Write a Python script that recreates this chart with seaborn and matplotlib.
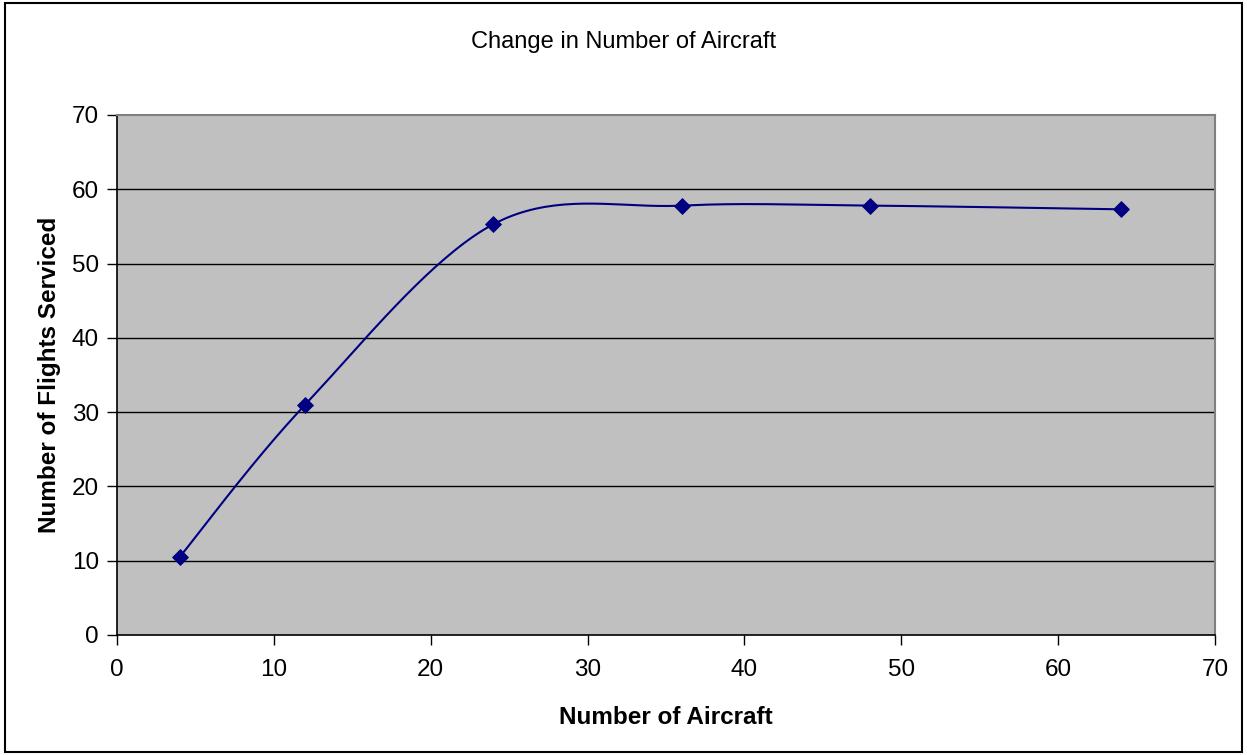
import numpy as np
import pandas as pd
import matplotlib
matplotlib.use("Agg")
import matplotlib.pyplot as plt
from matplotlib.patches import Rectangle
import seaborn as sns

aircraft = [4, 12, 24, 36, 48, 64]
flights_serviced = [10.5, 31, 55.3, 57.8, 57.8, 57.3]
x_ticks = [0, 10, 20, 30, 40, 50, 60, 70]
y_ticks = [0, 10, 20, 30, 40, 50, 60, 70]


def smooth_curve(xs, ys, steps=40):
    """Catmull-Rom style Bezier smoothing through every point."""
    pts = np.column_stack([xs, ys]).astype(float)
    out = []
    n = len(pts)
    for i in range(n - 1):
        p0 = pts[i - 1] if i > 0 else pts[i]
        p1 = pts[i]
        p2 = pts[i + 1]
        p3 = pts[i + 2] if i + 2 < n else pts[i + 1]
        c1 = p1 + (p2 - p0) / 6.0
        c2 = p2 - (p3 - p1) / 6.0
        t = np.linspace(0, 1, steps, endpoint=(i == n - 2))[:, None]
        seg = ((1 - t) ** 3) * p1 + 3 * ((1 - t) ** 2) * t * c1 + 3 * (1 - t) * t ** 2 * c2 + t ** 3 * p2
        out.append(seg)
    out = np.vstack(out)
    return out[:, 0], out[:, 1]


sx, sy = smooth_curve(aircraft, flights_serviced)
curve = pd.DataFrame({"x": sx, "y": sy})
points = pd.DataFrame({"aircraft": aircraft, "flights": flights_serviced})

sns.set_style("white")
plt.rcParams["font.family"] = ["Liberation Sans", "DejaVu Sans"]
plt.rcParams["text.color"] = "black"
plt.rcParams["axes.labelcolor"] = "black"
plt.rcParams["xtick.color"] = "black"
plt.rcParams["ytick.color"] = "black"

fig = plt.figure(figsize=(12.47, 7.55), dpi=100)
fig.patches.append(Rectangle((0.004, 0.004), 0.992, 0.992, transform=fig.transFigure,
                             fill=False, edgecolor="black", linewidth=1.5))

ax = fig.add_axes([0.0938, 0.159, 0.8805, 0.6887])
ax.set_facecolor("#c0c0c0")

for v in y_ticks[1:-1]:
    ax.axhline(v, color="black", linewidth=1.0, zorder=1)

sns.lineplot(data=curve, x="x", y="y", sort=False, estimator=None, ax=ax,
             color="#000080", linewidth=1.5, zorder=3)
sns.scatterplot(data=points, x="aircraft", y="flights", ax=ax, marker="D",
                s=65, color="#000080", edgecolor="#000080", zorder=4)

ax.set_xlim(0, 70)
ax.set_ylim(0, 70)
ax.set_xticks(x_ticks)
ax.set_yticks(y_ticks)
ax.tick_params(axis="both", direction="out", length=7, width=1.0, color="black",
               labelcolor="black", labelsize=17.5, left=True, bottom=True)
ax.tick_params(axis="y", pad=6)
ax.tick_params(axis="x", pad=10)

for side in ("left", "bottom"):
    ax.spines[side].set_color("black")
    ax.spines[side].set_linewidth(1.2)
for side in ("top", "right"):
    ax.spines[side].set_visible(True)
    ax.spines[side].set_color("#808080")
    ax.spines[side].set_linewidth(1.5)

ax.set_xlabel("Number of Aircraft", fontsize=17.5, fontweight="bold", labelpad=18)
ax.set_ylabel("Number of Flights Serviced", fontsize=17.5, fontweight="bold", labelpad=8)
fig.text(0.5, 0.945, "Change in Number of Aircraft", ha="center", va="center",
         fontsize=17, color="black")

fig.savefig("out.png", dpi=100)
